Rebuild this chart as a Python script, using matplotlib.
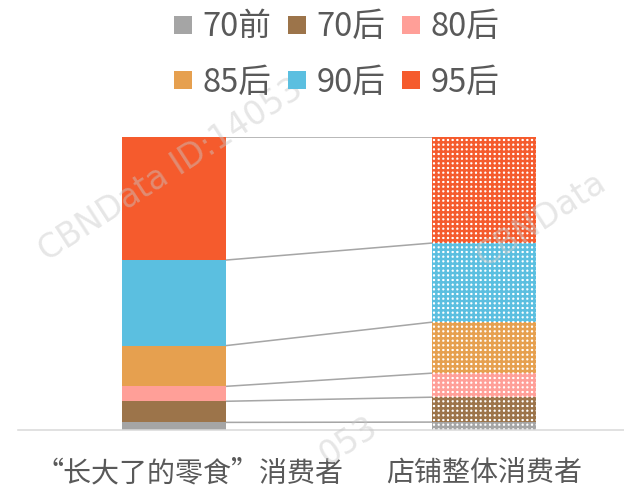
import matplotlib
matplotlib.use('Agg')
import matplotlib.pyplot as plt
from matplotlib.lines import Line2D
from matplotlib.transforms import ScaledTranslation

plt.rcParams['font.family'] = ['Noto Sans CJK SC', 'DejaVu Sans']
plt.rcParams['hatch.linewidth'] = 1.6

categories = ['“长大了的零食”消费者', '店铺整体消费者']
groups = ['70前', '70后', '80后', '85后', '90后', '95后']
snack = [2.6, 7.2, 5.1, 13.9, 29.2, 42.0]
store = [2.7, 8.5, 8.2, 17.4, 27.0, 36.2]
colors = ['#A5A5A5', '#9C744A', '#FF9F98', '#E6A04F', '#5BBFE0', '#F55B2D']

DPI = 112
W, H = 624, 490
fig = plt.figure(figsize=(W / DPI, H / DPI), dpi=DPI)
ax = fig.add_axes([18 / W, 60 / H, 606 / W, 293 / H])

w = 0.3355
bl = 0.0
br = 0.0
for g, a, b, c in zip(groups, snack, store, colors):
    ax.bar(0, a, w, bottom=bl, color=c, linewidth=0, zorder=2)
    ax.bar(1, b, w, bottom=br, facecolor='white', edgecolor=c, hatch='++++',
           linewidth=0, zorder=2)
    bl += a
    br += b
    ax.plot([w / 2, 1 - w / 2], [bl, br], color='#A6A6A6', lw=1.0, zorder=1)

ax.set_xlim(-0.503, 1.452)
ax.set_ylim(0, 100)
for s in ['left', 'right', 'top']:
    ax.spines[s].set_visible(False)
ax.spines['bottom'].set_color('#D9D9D9')
ax.spines['bottom'].set_linewidth(1.0)
ax.set_yticks([])
ax.set_xticks([0, 1])
ax.set_xticklabels(categories)
ax.tick_params(axis='x', length=0, colors='#595959', labelsize=18, pad=18)
lbl = ax.get_xticklabels()[0]
lbl.set_transform(lbl.get_transform() + ScaledTranslation(16 / DPI, 0, fig.dpi_scale_trans))

order = [0, 3, 1, 4, 2, 5]
handles = [Line2D([], [], marker='s', linestyle='none', markersize=12.2,
                  markerfacecolor=colors[i], markeredgewidth=0) for i in order]
labels = [groups[i] for i in order]
fig.legend(handles, labels, ncol=3, loc='center', bbox_to_anchor=(336 / W, 1 - 55 / H),
           frameon=False, fontsize=21, handlelength=0.65, handletextpad=0.28,
           columnspacing=0.45, labelspacing=0.72, labelcolor='#595959')

wm = dict(rotation=33, rotation_mode='anchor', ha='left', va='baseline',
          color='#C8C8C8', alpha=0.45, fontsize=21, family='DejaVu Sans', zorder=5)
fig.text(47 / W, 1 - 262 / H, 'CBNData ID:14053', **wm)
fig.text(484 / W, 1 - 268 / H, 'CBNData', **wm)
fig.text(328 / W, 1 - 466 / H, '053', **wm)

fig.savefig('out.png', dpi=DPI)
